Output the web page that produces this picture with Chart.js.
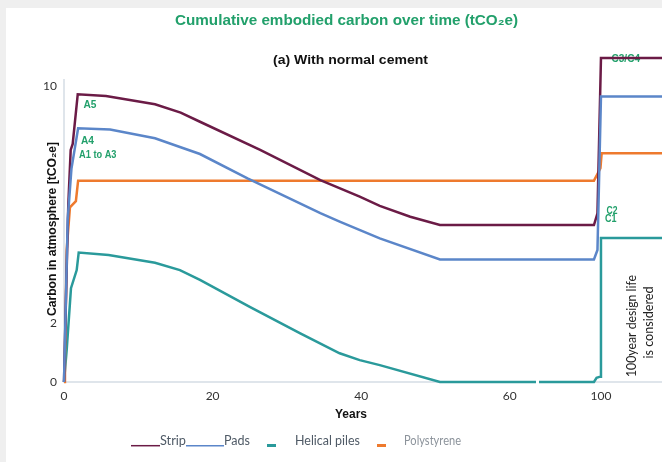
<!DOCTYPE html>
<html><head><meta charset="utf-8">
<script src="https://cdn.jsdelivr.net/npm/chart.js@4/dist/chart.umd.min.js"></script>
<style>html,body{margin:0;padding:0;background:#fff}canvas{display:block}</style>
</head><body>
<canvas id="c" width="662" height="462" style="width:662px;height:462px"></canvas>
<script>
// ---- data (years, tCO2e) ----
const stripYears  = [0, 0.36, 0.58, 0.9, 1.17, 1.85, 5.65, 12.25, 15.7, 18.3, 26.4, 34.5, 39.8, 42.5, 46.6, 50.6, 96, 98, 100, 140];
const stripValues = [0, 3.8, 6.0, 7.84, 8.04, 9.72, 9.66, 9.38, 9.1, 8.79, 7.84, 6.82, 6.26, 5.95, 5.58, 5.30, 5.30, 5.70, 10.94, 10.94];
const padsYears   = [0, 0.5, 1.0, 1.9, 6.2, 12.25, 15.7, 18.3, 24.7, 34.5, 37.1, 42.5, 50.6, 96, 98, 100, 140];
const padsValues  = [0, 5.5, 7.2, 8.57, 8.53, 8.23, 7.93, 7.70, 6.88, 5.70, 5.42, 4.85, 4.14, 4.14, 4.46, 9.64, 9.64];
const pilesYears  = [0, 0.36, 0.94, 1.71, 1.98, 6.0, 12.25, 15.6, 18.3, 25.0, 31.8, 37.1, 39.8, 42.5, 50.6, 96, 97.5, 99.5, 100, 140];
const pilesValues = [0, 1.08, 3.17, 3.78, 4.37, 4.29, 4.03, 3.78, 3.45, 2.54, 1.64, 0.97, 0.74, 0.57, 0, 0, 0.14, 0.18, 4.86, 4.86];
const polyYears   = [0, 0.13, 0.36, 0.8, 1.6, 1.9, 96, 99.7, 100.4, 140];
const polyValues  = [0, 0.85, 4.46, 5.9, 6.11, 6.8, 6.8, 7.22, 7.73, 7.73];
const xTickYears  = [0, 20, 40, 60, 100];
const yTickValues = [0, 2, 4, 6, 8, 10];
const yShownTicks = [0, 2, 10];
const seriesNames = ['Strip', 'Pads', 'Helical piles', 'Polystyrene'];

// broken x axis: years after the break are compressed
const BREAK = 63.7, K = 0.2361;
const toAxis = y => y <= BREAK ? y : BREAK + (y - BREAK) * K;
const fromAxis = a => a <= BREAK ? a : BREAK + (a - BREAK) / K;
const pts = (xs, ys) => xs.map((x, i) => ({x: toAxis(x), y: ys[i]}));

const COL = {strip:'#6b1b46', pads:'#5b86c9', piles:'#2a9a9b', poly:'#ee7a2e', green:'#22a06b'};

function txt(ctx, s, x, y, font, color, width, align, rot) {
  ctx.save();
  ctx.font = font; ctx.fillStyle = color; ctx.textBaseline = 'middle';
  ctx.translate(x, y);
  if (rot) ctx.rotate(rot);
  const w = ctx.measureText(s).width;
  const sx = width ? width / w : 1;
  ctx.scale(sx, 1);
  let ox = 0;
  if (align === 'center') ox = -w / 2;
  ctx.textAlign = 'left';
  ctx.fillText(s, ox, 0);
  ctx.restore();
}

const overlay = {
  id: 'overlay',
  beforeDraw(chart) {
    const c = chart.ctx;
    c.save(); c.fillStyle = '#efefef'; c.fillRect(0, 0, 662, 462);
    c.fillStyle = '#ffffff'; c.fillRect(6, 8, 656, 454); c.restore();
  },
  beforeDatasetsDraw(chart) {
    const c = chart.ctx;
    txt(c, 'C3/C4', 611.5, 59, 'bold 10px "Liberation Sans", Arial', COL.green, 28.5);
  },
  afterDatasetsDraw(chart) {
    const c = chart.ctx;
    c.save(); c.fillStyle = '#ffffff'; c.fillRect(536, 375, 3, 14); c.restore();
  },
  afterDraw(chart) {
    const c = chart.ctx;
    const f = 'bold 10px "Liberation Sans", Arial';
    txt(c, 'Cumulative embodied carbon over time (tCO\u2082e)', 346.5, 21, 'bold 15px "Liberation Sans", Arial', COL.green, 343, 'center');
    txt(c, '(a) With normal cement', 350.5, 60.5, 'bold 13px "Liberation Sans", Arial', '#111', 155, 'center');
    txt(c, 'Carbon in atmosphere [tCO\u2082e]', 52.5, 229, 'bold 13px "Liberation Sans", Arial', '#111', 174, 'center', -Math.PI / 2);
    txt(c, 'Years', 351, 414.5, 'bold 12px "Liberation Sans", Arial', '#111', 32, 'center');
    txt(c, 'A5', 83.5, 105, f, COL.green, 13);
    txt(c, 'A4', 81, 141.5, f, COL.green, 13);
    txt(c, 'A1 to A3', 79, 155.5, f, COL.green, 37.5);
    txt(c, 'C2', 606.5, 211, f, COL.green, 11);
    txt(c, 'C1', 605, 219, f, COL.green, 11.5);
    txt(c, '100year design life', 632, 326, '12.5px Lato', '#222', 102, 'center', -Math.PI / 2);
    txt(c, 'is considered', 648.5, 322.5, '12.5px Lato', '#222', 72, 'center', -Math.PI / 2);
    // legend
    c.save();
    c.lineWidth = 1.5;
    c.strokeStyle = COL.strip; c.beginPath(); c.moveTo(131, 445.7); c.lineTo(160, 445.7); c.stroke();
    c.strokeStyle = COL.pads; c.beginPath(); c.moveTo(186, 445.7); c.lineTo(224, 445.7); c.stroke();
    c.fillStyle = COL.piles; c.fillRect(267, 444, 9, 3);
    c.fillStyle = COL.poly; c.fillRect(377, 444, 9, 3);
    c.restore();
    const lf = '12.5px Lato';
    txt(c, seriesNames[0], 160, 441, lf, '#4f5a66', 26);
    txt(c, seriesNames[1], 224, 441, lf, '#4f5a66', 26);
    txt(c, seriesNames[2], 295, 441, lf, '#4f5a66', 65);
    txt(c, seriesNames[3], 404, 441, lf, '#8c939b', 57);
  }
};

const ds = (label, xs, ys, color, order) => ({
  label, data: pts(xs, ys), borderColor: color, backgroundColor: color,
  borderWidth: 2.5, pointRadius: 0, tension: 0, clip: false, order, fill: false
});

new Chart(document.getElementById('c'), {
  type: 'line',
  data: {
    datasets: [
      ds(seriesNames[1], padsYears, padsValues, COL.pads, 0),
      ds(seriesNames[0], stripYears, stripValues, COL.strip, 1),
      ds(seriesNames[3], polyYears, polyValues, COL.poly, 2),
      ds(seriesNames[2], pilesYears, pilesValues, COL.piles, 3)
    ]
  },
  options: {
    responsive: false, animation: false,
    layout: {padding: {left: 0, right: 0, top: 80, bottom: 0}},
    plugins: {legend: {display: false}, title: {display: false}, tooltip: {enabled: false}},
    scales: {
      x: {
        type: 'linear', min: 0, max: 598 / 7.43,
        grid: {display: false, drawTicks: false},
        border: {display: true, color: '#dfe5eb', width: 2},
        afterFit: s => { s.height = 80; },
        afterBuildTicks: s => { s.ticks = xTickYears.map(v => ({value: toAxis(v)})); },
        ticks: {padding: 7, color: '#333', font: {family: 'Lato', size: 12},
                callback: v => String(Math.round(fromAxis(v)))}
      },
      y: {
        type: 'linear', min: 0, max: 10.2,
        grid: {display: false, drawTicks: false},
        border: {display: true, color: '#dfe5eb', width: 2},
        afterFit: s => { s.width = 64; },
        afterBuildTicks: s => { s.ticks = yTickValues.map(v => ({value: v})); },
        ticks: {padding: 7, color: '#333', font: {family: 'Lato', size: 12},
                callback: v => yShownTicks.includes(v) ? String(v) : ''}
      }
    }
  },
  plugins: [overlay]
});
</script>
</body></html>
